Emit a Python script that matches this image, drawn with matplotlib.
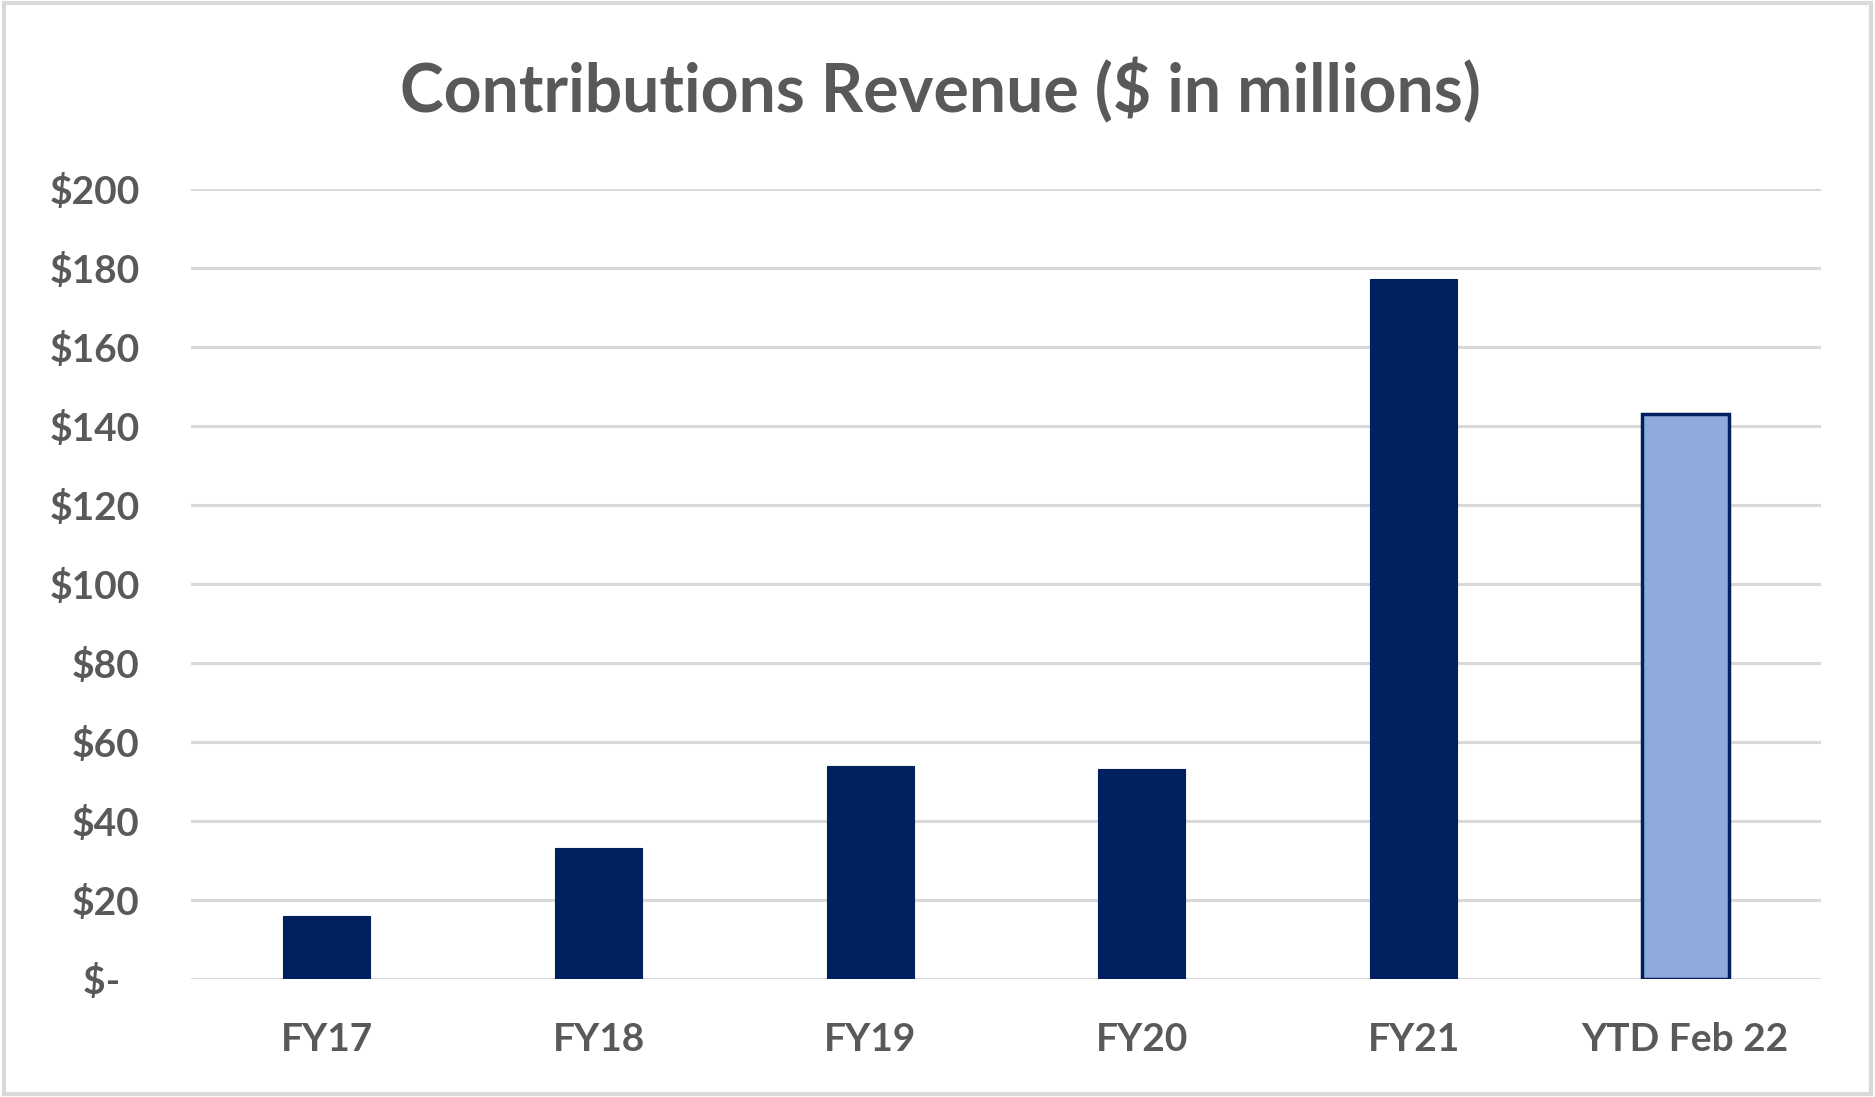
import matplotlib
matplotlib.use("Agg")
import matplotlib.pyplot as plt
from matplotlib.patches import Rectangle

# data
categories = ["FY17", "FY18", "FY19", "FY20", "FY21", "YTD Feb 22"]
revenue = [16.0, 33.2, 53.8, 53.2, 177.2, 143.0]
bar_colors = ["#002060", "#002060", "#002060", "#002060", "#002060", "#8FAADC"]
edge_widths = [0.8, 0.8, 0.8, 0.8, 0.8, 2.5]
y_ticks = [0, 20, 40, 60, 80, 100, 120, 140, 160, 180, 200]
y_tick_labels = ["$-  ", "$20", "$40", "$60", "$80", "$100", "$120",
                 "$140", "$160", "$180", "$200"]

TEXT = "#595959"
GRID = "#D9D9D9"

plt.rcParams["font.family"] = ["Lato", "DejaVu Sans"]

fig = plt.figure(figsize=(18.75, 10.97), dpi=100)
ax = fig.add_axes([0.1019, 0.1078, 0.8693, 0.7199])

x = list(range(len(categories)))
ax.bar(x, revenue, width=0.32, color=bar_colors, edgecolor="#002060",
       linewidth=edge_widths, zorder=3)

ax.set_xlim(-0.5, len(categories) - 0.5)
ax.set_ylim(0, 200)
ax.set_yticks(y_ticks)
ax.set_yticklabels(y_tick_labels)
ax.set_xticks(x)
ax.set_xticklabels(categories)

ax.grid(axis="y", color=GRID, linewidth=2.2, zorder=0)
ax.set_axisbelow(True)
for s in ax.spines.values():
    s.set_visible(False)

ax.tick_params(axis="both", length=0, labelsize=28, labelcolor=TEXT)
ax.tick_params(axis="y", pad=37)
ax.tick_params(axis="x", pad=31)
for lbl in ax.get_xticklabels():
    lbl.set_fontweight("bold")
for lbl in ax.get_yticklabels():
    lbl.set_fontweight("bold")

fig.text(0.5015, 0.917, "Contributions Revenue ($ in millions)", ha="center",
         va="center", fontsize=47.5, fontweight="bold", color=TEXT)

# light chart border
fig.add_artist(Rectangle((0.002, 0.003), 0.996, 0.994, transform=fig.transFigure,
                         fill=False, edgecolor=GRID, linewidth=3))

fig.savefig("out.png", dpi=100, facecolor="white")
